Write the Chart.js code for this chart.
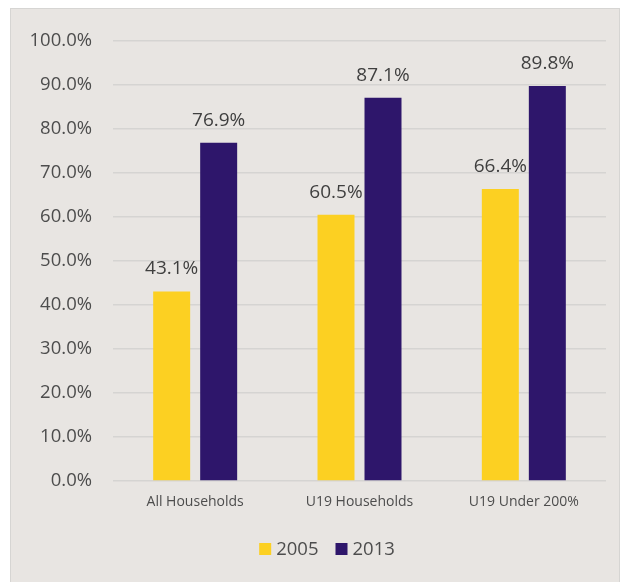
<!DOCTYPE html>
<html>
<head>
<meta charset="utf-8">
<script src="https://cdn.jsdelivr.net/npm/chart.js@4"></script>
<style>
  html, body { margin: 0; padding: 0; background: #ffffff; }
  #frame {
    position: absolute; left: 10px; top: 8px;
    width: 608px; height: 574px;
    background: #e8e5e2;
    border: 1px solid #d6d5d3; border-bottom: none;
  }
  #chart { display: block; }
</style>
</head>
<body>
<div id="frame"><canvas id="chart" width="608" height="574"></canvas></div>
<script>
var categories = ["All Households", "U19 Households", "U19 Under 200%"];
var seriesNames = ["2005", "2013"];
var values2005 = [43.1, 60.5, 66.4];
var values2013 = [76.9, 87.1, 89.8];
var tickValues = [0, 10, 20, 30, 40, 50, 60, 70, 80, 90, 100];

var FONT = "'Open Sans', 'Noto Sans', sans-serif";
var TEXT = "#4d4d4d";

// prints the percentage over every bar
var valueLabels = {
  id: "valueLabels",
  afterDatasetsDraw: function (chart) {
    var ctx = chart.ctx;
    ctx.save();
    ctx.font = "19px " + FONT;
    ctx.fillStyle = "#3f3f3f";
    ctx.textAlign = "center";
    ctx.textBaseline = "alphabetic";
    chart.data.datasets.forEach(function (ds, i) {
      chart.getDatasetMeta(i).data.forEach(function (bar, j) {
        ctx.fillText(ds.data[j].toFixed(1) + "%", bar.x, bar.y - 17);
      });
    });
    ctx.restore();
  }
};

// small square-swatch legend under the axis labels
var swatchLegend = {
  id: "swatchLegend",
  afterDraw: function (chart) {
    var ctx = chart.ctx;
    var box = 12, gap = 5, spacing = 17;
    ctx.save();
    ctx.font = "18.5px " + FONT;
    ctx.textBaseline = "middle";
    ctx.textAlign = "left";
    var items = chart.data.datasets.map(function (ds) {
      return { text: ds.label, color: ds.backgroundColor, w: ctx.measureText(ds.label).width };
    });
    var total = items.reduce(function (s, it) { return s + box + gap + it.w; }, 0) + spacing * (items.length - 1);
    var x = chart.width / 2 + 12 - total / 2;
    var y = 540;
    items.forEach(function (it) {
      ctx.fillStyle = it.color;
      ctx.fillRect(x, y - box / 2, box, box);
      x += box + gap;
      ctx.fillStyle = TEXT;
      ctx.fillText(it.text, x, y + 1);
      x += it.w + spacing;
    });
    ctx.restore();
  }
};

var config = {
  type: "bar",
  data: {
    labels: categories,
    datasets: [
      {
        label: seriesNames[0],
        data: values2005,
        backgroundColor: "#fcd022",
        borderWidth: 0,
        barPercentage: 0.787,
        categoryPercentage: 0.572
      },
      {
        label: seriesNames[1],
        data: values2013,
        backgroundColor: "#2e166b",
        borderWidth: 0,
        barPercentage: 0.787,
        categoryPercentage: 0.572
      }
    ]
  },
  options: {
    responsive: false,
    animation: false,
    layout: { padding: { top: 29, right: 13, bottom: 62, left: 0 } },
    plugins: {
      legend: { display: false },
      tooltip: { enabled: false }
    },
    scales: {
      x: {
        afterFit: function (scale) { scale.height = 40; },
        grid: { display: false, drawTicks: false },
        border: { display: false },
        ticks: {
          padding: 13,
          color: TEXT,
          font: { size: 14, family: FONT }
        }
      },
      y: {
        min: 0,
        max: 100,
        afterFit: function (scale) { scale.width = 102; },
        afterBuildTicks: function (scale) {
          scale.ticks = tickValues.map(function (v) { return { value: v }; });
        },
        grid: { color: "#d5d4d2", lineWidth: 1.5, drawTicks: false },
        border: { display: false },
        ticks: {
          padding: 21,
          color: TEXT,
          font: { size: 18.5, family: FONT },
          callback: function (v) { return v.toFixed(1) + "%"; }
        }
      }
    }
  },
  plugins: [valueLabels, swatchLegend]
};

var ctx = document.getElementById("chart").getContext("2d");
window.myBar = new Chart(ctx, config);
</script>
</body>
</html>
